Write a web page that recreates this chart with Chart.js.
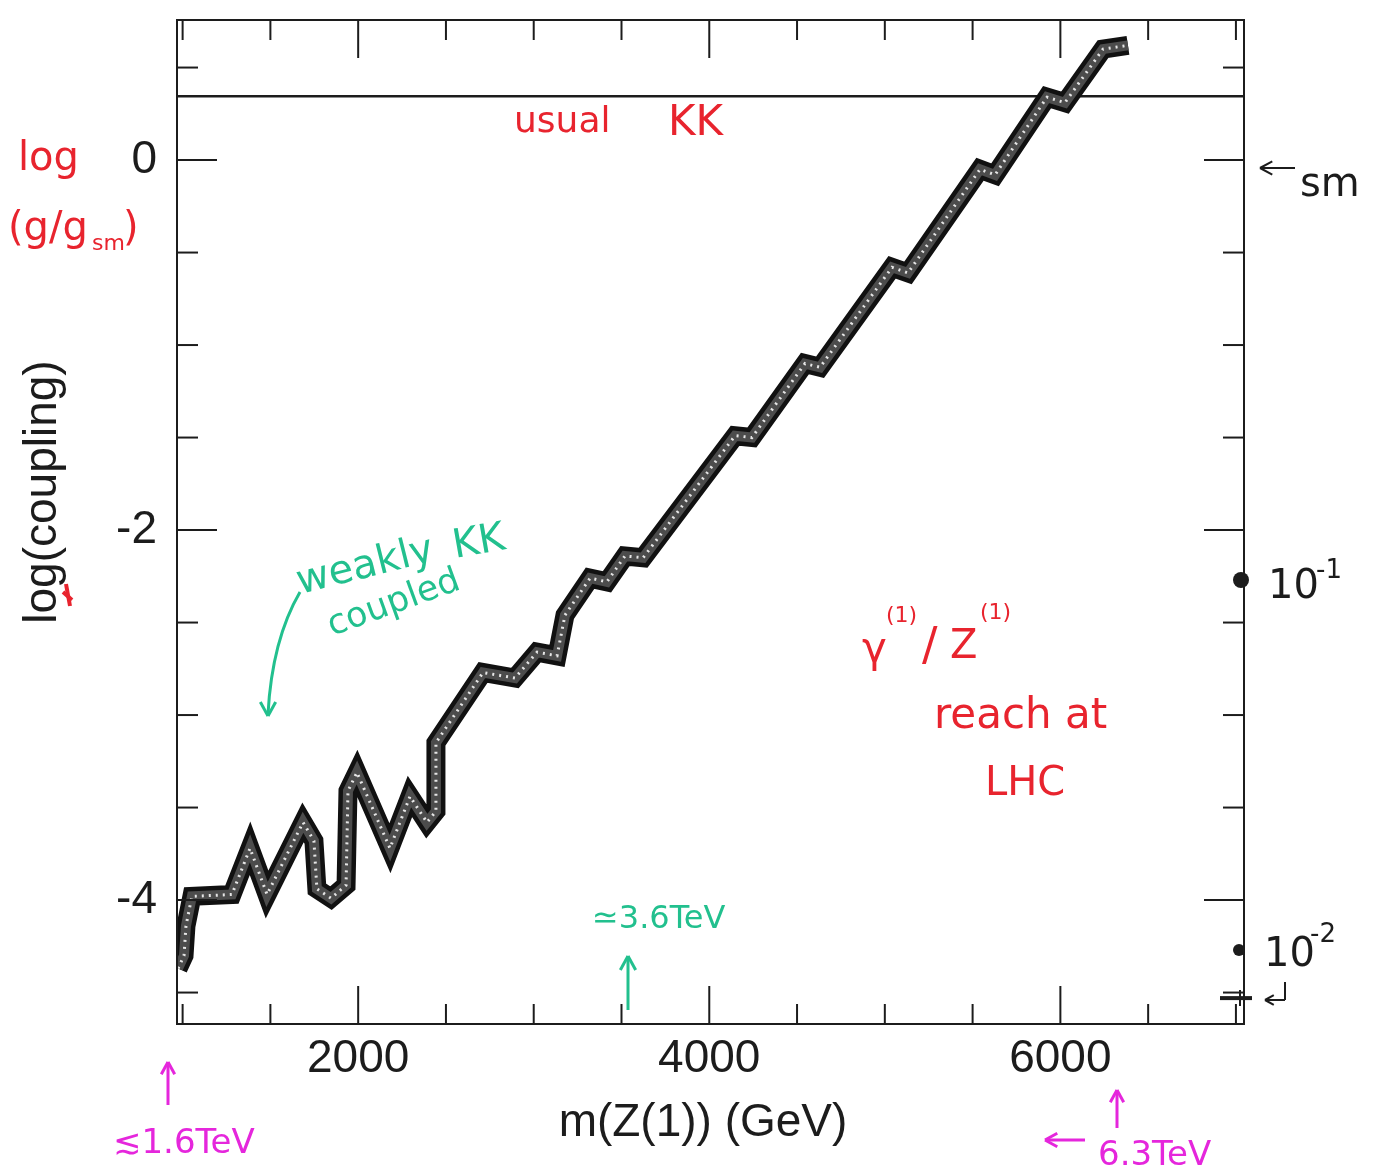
<!DOCTYPE html>
<html>
<head>
<meta charset="utf-8">
<script src="https://cdn.jsdelivr.net/npm/chart.js@4.4.1/dist/chart.umd.min.js"></script>
<style>
  html, body { margin: 0; padding: 0; background: #fff; }
  #wrap { width: 1376px; height: 1169px; position: relative; }
</style>
</head>
<body>
<div id="wrap"><canvas id="reach" width="1376" height="1169"></canvas></div>
<script>
/* reach band: m(Z(1)) in GeV vs log(coupling) */
const massGeV = [974, 1008, 1019, 1053, 1281, 1384, 1481, 1686, 1748, 1765, 1845, 1931, 1942, 1993,
                 2181, 2295, 2392, 2443, 2443, 2711, 2893, 3019, 3133, 3178, 3321, 3417, 3520, 3623,
                 4147, 4243, 4545, 4631, 5041, 5132, 5542, 5628, 5924, 6026, 6243, 6385];
const logCoupling = [-4.37, -4.30, -4.14, -3.98, -3.97, -3.72, -3.97, -3.58, -3.68, -3.94, -3.99, -3.92, -3.41, -3.31,
                     -3.72, -3.44, -3.58, -3.52, -3.15, -2.77, -2.80, -2.66, -2.68, -2.46, -2.26, -2.28, -2.14, -2.15,
                     -1.49, -1.50, -1.10, -1.12, -0.58, -0.61, -0.05, -0.08, 0.34, 0.31, 0.60, 0.62];

// "usual KK" horizontal line
const usualMass = [968, 7046];
const usualLog = [0.345, 0.345];

// axis ranges and ticks
const xMin = 968, xMax = 7046;
const yMin = -4.67, yMax = 0.757;
const xTicks = [1000, 1500, 2000, 2500, 3000, 3500, 4000, 4500, 5000, 5500, 6000, 6500, 7000];
const xLabels = [2000, 4000, 6000];
const yTicks = [-4.5, -4, -3.5, -3, -2.5, -2, -1.5, -1, -0.5, 0, 0.5];
const yLabels = [0, -2, -4];

const RED = '#e8242e';
const GREEN = '#22c08e';
const MAGENTA = '#e526dc';
const INK = '#1c1c1c';
const HAND = '"DejaVu Sans", sans-serif';
const AXIS_FONT = '"Liberation Sans", Arial, sans-serif';

const toXY = (xs, ys) => xs.map((v, i) => ({ x: v, y: ys[i] }));

/* ── helpers for hand-drawn notes ───────────────────────── */
function seg(ctx, x1, y1, x2, y2) {
    ctx.beginPath(); ctx.moveTo(x1, y1); ctx.lineTo(x2, y2); ctx.stroke();
}
function arrowHead(ctx, x, y, ang, size) {
    seg(ctx, x, y, x - size * Math.cos(ang - 0.5), y - size * Math.sin(ang - 0.5));
    seg(ctx, x, y, x - size * Math.cos(ang + 0.5), y - size * Math.sin(ang + 0.5));
}
function text(ctx, s, x, y, size, color, rot) {
    ctx.save();
    ctx.font = size + 'px ' + HAND;
    ctx.fillStyle = color;
    ctx.translate(x, y);
    if (rot) ctx.rotate(rot * Math.PI / 180);
    ctx.fillText(s, 0, 0);
    ctx.restore();
}
function noEdgePadding(s) {
    s.paddingTop = 0; s.paddingBottom = 0; s.paddingLeft = 0; s.paddingRight = 0;
}

const framePlugin = {
    id: 'framePlugin',
    afterDraw(chart) {
        const { ctx, chartArea: a } = chart;
        const xs = chart.scales.x, ys = chart.scales.y;
        ctx.save();
        ctx.strokeStyle = INK;
        ctx.lineWidth = 2;
        ctx.strokeRect(a.left, a.top, a.right - a.left, a.bottom - a.top);

        // inward ticks on all four sides
        xTicks.forEach(v => {
            const px = xs.getPixelForValue(v);
            const len = xLabels.includes(v) ? 38 : 20;
            seg(ctx, px, a.bottom, px, a.bottom - len);
            seg(ctx, px, a.top, px, a.top + len);
        });
        yTicks.forEach(v => {
            const py = ys.getPixelForValue(v);
            const len = yLabels.includes(v) ? 40 : 21;
            seg(ctx, a.left, py, a.left + len, py);
            seg(ctx, a.right, py, a.right - len, py);
        });

        // axis titles
        ctx.fillStyle = INK;
        ctx.font = '46px ' + AXIS_FONT;
        ctx.textAlign = 'center';
        ctx.textBaseline = 'alphabetic';
        ctx.fillText('m(Z(1)) (GeV)', 703, 1136);
        ctx.save();
        ctx.translate(56, 492);
        ctx.rotate(-Math.PI / 2);
        ctx.fillText('log(coupling)', 0, 0);
        ctx.restore();
        ctx.textAlign = 'left';

        // red scribble on the y title
        ctx.strokeStyle = RED; ctx.lineWidth = 4;
        seg(ctx, 66, 584, 70, 606);
        seg(ctx, 63, 592, 72, 600);

        /* red notes */
        text(ctx, 'log', 18, 170, 40, RED);
        text(ctx, '(g/g', 8, 240, 40, RED);
        text(ctx, 'sm', 92, 250, 22, RED);
        text(ctx, ')', 123, 240, 40, RED);
        text(ctx, 'usual', 514, 132, 36, RED);
        text(ctx, 'KK', 668, 135, 42, RED);
        text(ctx, 'γ', 862, 662, 42, RED);
        text(ctx, '(1)', 886, 622, 22, RED);
        text(ctx, '/', 922, 660, 46, RED);
        text(ctx, 'Z', 950, 658, 40, RED);
        text(ctx, '(1)', 980, 619, 22, RED);
        text(ctx, 'reach at', 934, 728, 42, RED);
        text(ctx, 'LHC', 985, 795, 40, RED);

        /* green notes */
        text(ctx, 'weakly', 300, 594, 40, GREEN, -14);
        text(ctx, 'KK', 455, 558, 40, GREEN, -10);
        text(ctx, 'coupled', 332, 636, 35, GREEN, -20);
        ctx.strokeStyle = GREEN; ctx.lineWidth = 3;
        ctx.beginPath(); ctx.moveTo(300, 592); ctx.quadraticCurveTo(272, 640, 268, 714); ctx.stroke();
        arrowHead(ctx, 268, 716, Math.PI / 2, 16);
        text(ctx, '≃3.6TeV', 592, 928, 32, GREEN);
        seg(ctx, 628, 1010, 628, 958);
        arrowHead(ctx, 628, 956, -Math.PI / 2, 16);

        /* magenta notes */
        ctx.strokeStyle = MAGENTA; ctx.lineWidth = 3;
        seg(ctx, 168, 1105, 168, 1064);
        arrowHead(ctx, 168, 1062, -Math.PI / 2, 14);
        text(ctx, '≲1.6TeV', 113, 1153, 34, MAGENTA);
        seg(ctx, 1117, 1128, 1117, 1092);
        arrowHead(ctx, 1117, 1090, -Math.PI / 2, 14);
        seg(ctx, 1085, 1140, 1047, 1140);
        arrowHead(ctx, 1045, 1140, Math.PI, 14);
        text(ctx, '6.3TeV', 1098, 1165, 34, MAGENTA);

        /* black notes at the right axis */
        ctx.strokeStyle = INK; ctx.fillStyle = INK; ctx.lineWidth = 2;
        seg(ctx, 1295, 168, 1262, 168);
        arrowHead(ctx, 1260, 168, Math.PI, 14);
        text(ctx, 'sm', 1300, 196, 40, INK);
        const dot1 = ys.getPixelForValue(-2.27), dot2 = ys.getPixelForValue(-4.27);
        ctx.beginPath(); ctx.arc(a.right - 3, dot1, 8, 0, Math.PI * 2); ctx.fill();
        ctx.beginPath(); ctx.arc(a.right - 5, dot2, 6, 0, Math.PI * 2); ctx.fill();
        text(ctx, '10', 1268, 598, 40, INK);
        text(ctx, '-1', 1316, 578, 26, INK);
        text(ctx, '10', 1264, 966, 40, INK);
        text(ctx, '-2', 1310, 942, 26, INK);
        const mark = ys.getPixelForValue(-4.53);
        ctx.lineWidth = 4;
        seg(ctx, 1220, mark, 1252, mark);
        ctx.lineWidth = 2;
        seg(ctx, 1240, mark - 8, 1240, mark + 8);
        seg(ctx, 1285, 982, 1285, 1000);
        seg(ctx, 1285, 1000, 1267, 1000);
        arrowHead(ctx, 1265, 1000, Math.PI, 10);
        ctx.restore();
    }
};

new Chart(document.getElementById('reach'), {
    type: 'scatter',
    data: {
        // first dataset is painted last (on top)
        datasets: [
            {
                label: 'reach texture',
                data: toXY(massGeV, logCoupling),
                showLine: true, pointRadius: 0,
                borderColor: '#e6e6e6', borderWidth: 3,
                borderDash: [2, 5],
                borderJoinStyle: 'miter',
            },
            {
                label: 'reach fill',
                data: toXY(massGeV, logCoupling),
                showLine: true, pointRadius: 0,
                borderColor: '#4c4c4c', borderWidth: 10,
                borderJoinStyle: 'miter',
            },
            {
                label: 'reach outline',
                data: toXY(massGeV, logCoupling),
                showLine: true, pointRadius: 0,
                borderColor: '#111111', borderWidth: 19,
                borderJoinStyle: 'miter', borderCapStyle: 'butt',
            },
            {
                label: 'usual KK',
                data: toXY(usualMass, usualLog),
                showLine: true, pointRadius: 0,
                borderColor: INK, borderWidth: 2.5,
            },
        ],
    },
    options: {
        responsive: false,
        animation: false,
        devicePixelRatio: 1,
        layout: { padding: { left: 0, top: 20, right: 132, bottom: 0 } },
        plugins: { legend: { display: false }, tooltip: { enabled: false } },
        scales: {
            x: {
                type: 'linear', min: xMin, max: xMax,
                grid: { display: false, drawTicks: false },
                border: { display: false },
                afterBuildTicks: s => { s.ticks = xLabels.map(v => ({ value: v })); },
                afterFit: s => { s.height = 145; noEdgePadding(s); },
                ticks: { padding: 8, color: INK, font: { family: AXIS_FONT, size: 46 }, maxRotation: 0,
                         callback: v => String(v) },
            },
            y: {
                type: 'linear', min: yMin, max: yMax,
                grid: { display: false, drawTicks: false },
                border: { display: false },
                afterBuildTicks: s => { s.ticks = yLabels.map(v => ({ value: v })); },
                afterFit: s => { s.width = 177; noEdgePadding(s); },
                ticks: { padding: 20, color: INK, font: { family: AXIS_FONT, size: 46 },
                         callback: v => String(v) },
            },
        },
    },
    plugins: [framePlugin],
});
</script>
</body>
</html>
